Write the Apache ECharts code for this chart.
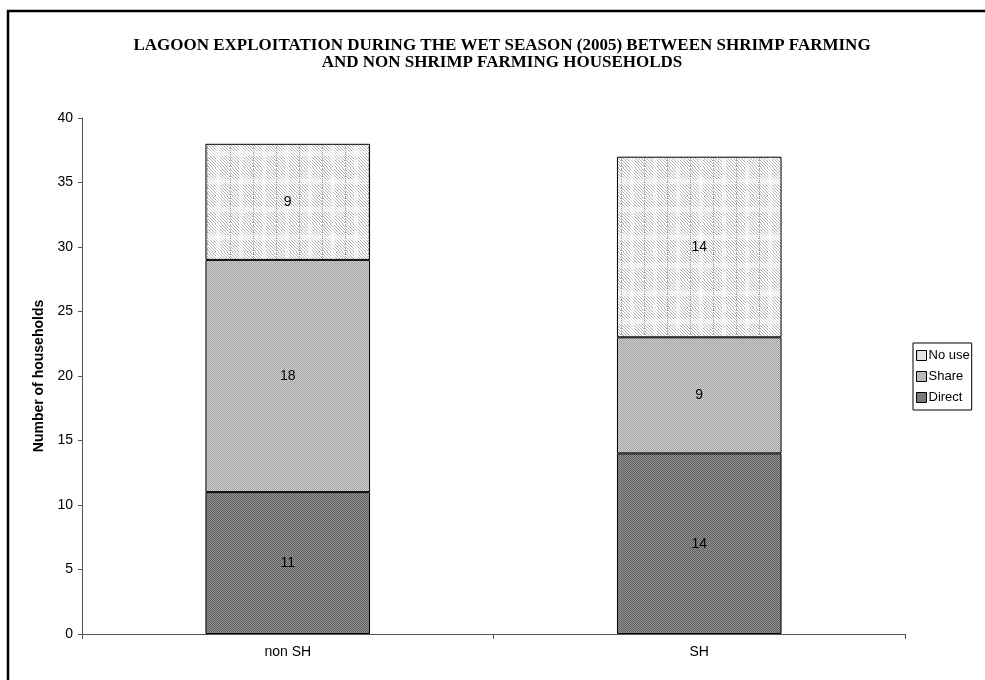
<!DOCTYPE html>
<html>
<head>
<meta charset="utf-8">
<script src="https://cdn.jsdelivr.net/npm/echarts@6/dist/echarts.min.js"></script>
<style>
  html, body { margin: 0; padding: 0; background: #fff; }
  #chart { width: 985px; height: 680px; }
</style>
</head>
<body>
<div id="chart"></div>
<script>
// Household groups and lagoon use counts (wet season 2005)
const categories = ['non SH', 'SH'];
const directUse = [11, 14];
const shareUse = [18, 9];
const noUse = [9, 14];
const yTicks = { min: 0, max: 40, step: 5 };

// Fine dithered fill, like a grey halftone
function ditherPattern(c1, c2) {
  const cv = document.createElement('canvas');
  cv.width = 4; cv.height = 4;
  const ctx = cv.getContext('2d');
  for (let y = 0; y < 4; y++) {
    for (let x = 0; x < 4; x++) {
      ctx.fillStyle = ((x + y) % 2 === 0) ? c1 : c2;
      ctx.fillRect(x, y, 1, 1);
    }
  }
  return { image: cv, repeat: 'repeat' };
}

// Light diagonal hatch with dotted vertical rules
function hatchPattern() {
  const w = 23, h = 28;
  const cv = document.createElement('canvas');
  cv.width = w; cv.height = h;
  const ctx = cv.getContext('2d');
  ctx.fillStyle = '#ffffff';
  ctx.fillRect(0, 0, w, h);
  ctx.strokeStyle = '#a8a8a8';
  ctx.lineWidth = 0.9;
  for (let k = -h; k < w + h; k += 3) {
    ctx.beginPath();
    ctx.moveTo(k, 0);
    ctx.lineTo(k + h, h);
    ctx.stroke();
  }
  // softer bands breaking the hatch
  ctx.fillStyle = 'rgba(255,255,255,0.5)';
  ctx.fillRect(0, 11, w, 5);
  ctx.fillRect(9, 0, 4, h);
  // dotted vertical rule
  ctx.fillStyle = '#9a9a9a';
  for (let y = 0; y < h; y += 2) ctx.fillRect(0, y, 1, 1);
  return { image: cv, repeat: 'repeat' };
}

const chart = echarts.init(document.getElementById('chart'), null, { renderer: 'canvas' });

const sans = 'Liberation Sans, Arial, sans-serif';
const labelStyle = {
  show: true,
  position: 'inside',
  color: '#000',
  fontFamily: sans,
  fontSize: 14
};
const barBorder = { borderColor: '#000', borderWidth: 1 };

chart.setOption({
  animation: false,
  backgroundColor: '#fff',
  title: {
    text: 'LAGOON EXPLOITATION DURING THE WET SEASON (2005) BETWEEN SHRIMP FARMING\nAND NON SHRIMP FARMING HOUSEHOLDS',
    left: 497,
    top: 32,
    textAlign: 'center',
    textStyle: {
      fontFamily: 'Liberation Serif, Times New Roman, serif',
      fontWeight: 'bold',
      fontSize: 17,
      lineHeight: 17,
      color: '#000',
      align: 'center'
    }
  },
  legend: {
    orient: 'vertical',
    left: 913,
    top: 343,
    data: ['No use', 'Share', 'Direct'],
    itemWidth: 10,
    itemHeight: 10,
    itemGap: 8,
    padding: [6, 2, 6, 3],
    borderColor: '#000',
    borderWidth: 1,
    icon: 'rect',
    itemStyle: { borderColor: '#000', borderWidth: 1 },
    textStyle: {
      fontFamily: sans,
      fontSize: 13,
      color: '#000',
      padding: [0, 0, 0, -3]
    }
  },
  grid: { left: 82, right: 80, top: 118, bottom: 46 },
  xAxis: {
    type: 'category',
    data: categories,
    axisLine: { lineStyle: { color: '#555', width: 1 } },
    axisTick: { show: true, length: 5, lineStyle: { color: '#555' } },
    axisLabel: {
      margin: 11,
      color: '#000',
      fontFamily: sans,
      fontSize: 14
    }
  },
  yAxis: {
    type: 'value',
    min: yTicks.min,
    max: yTicks.max,
    interval: yTicks.step,
    name: 'Number of households',
    nameLocation: 'middle',
    nameGap: 30,
    nameTextStyle: {
      fontFamily: sans,
      fontWeight: 'bold',
      fontSize: 14,
      color: '#000'
    },
    axisLine: { show: true, lineStyle: { color: '#555', width: 1 } },
    axisTick: { show: true, length: 4, lineStyle: { color: '#555' } },
    splitLine: { show: false },
    axisLabel: {
      margin: 9,
      color: '#000',
      fontFamily: sans,
      fontSize: 14
    }
  },
  series: [
    {
      name: 'Direct', type: 'bar', stack: 'use', barWidth: '40%',
      data: directUse,
      itemStyle: Object.assign({ color: ditherPattern('#5e5e5e', '#949494') }, barBorder),
      label: labelStyle
    },
    {
      name: 'Share', type: 'bar', stack: 'use', barWidth: '40%',
      data: shareUse,
      itemStyle: Object.assign({ color: ditherPattern('#a2a2a2', '#d0d0d0') }, barBorder),
      label: labelStyle
    },
    {
      name: 'No use', type: 'bar', stack: 'use', barWidth: '40%',
      data: noUse,
      itemStyle: Object.assign({ color: hatchPattern() }, barBorder),
      label: labelStyle
    }
  ],
  graphic: [
    {
      type: 'rect',
      shape: { x: 8, y: 11, width: 1000, height: 700 },
      style: { fill: 'none', stroke: '#000', lineWidth: 2.5 },
      silent: true,
      z: 100
    }
  ]
});
</script>
</body>
</html>
